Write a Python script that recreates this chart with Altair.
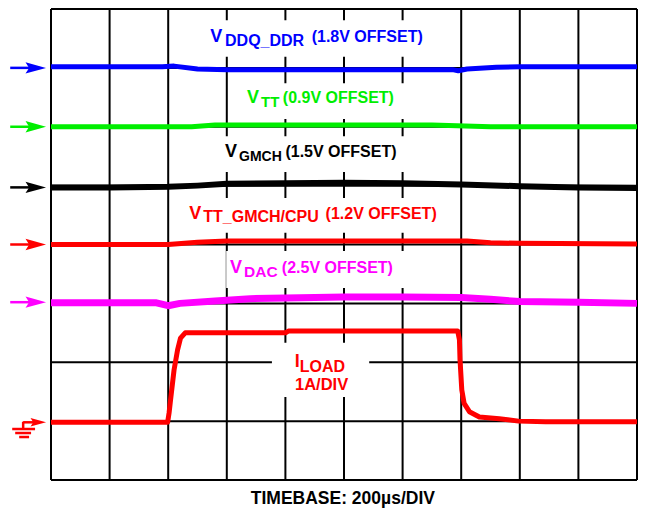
import altair as alt
import pandas as pd

# ---------------- data (units: scope divisions) ----------------
# x: 0..10 divisions (200us/div), y: 0..8 divisions
blue_t = [0, 1.0, 1.9, 2.1, 2.5, 3.0, 4.0, 5.0, 6.0, 6.85, 6.95, 7.1, 7.6, 8.0, 9.0, 10]
blue_v = [7.02, 7.02, 7.02, 7.03, 6.98, 6.97, 6.97, 6.97, 6.97, 6.97, 6.95, 6.98, 7.01, 7.02, 7.02, 7.02]

green_t = [0, 1.0, 2.4, 2.8, 4.0, 5.0, 6.5, 7.5, 9.0, 10]
green_v = [6.0, 6.0, 6.0, 6.03, 6.03, 6.03, 6.03, 6.0, 6.0, 6.0]

black_t = [0, 1, 2.0, 2.5, 3.0, 4, 5, 6, 7, 8, 9, 10]
black_v = [4.97, 4.97, 4.98, 5.0, 5.03, 5.04, 5.05, 5.04, 5.02, 4.99, 4.97, 4.96]

red_t = [0, 1.0, 2.0, 2.5, 3.0, 5.0, 7.1, 7.5, 8.0, 10]
red_v = [4.0, 4.0, 4.0, 4.04, 4.06, 4.06, 4.06, 4.03, 4.02, 4.01]

mag_t = [0, 1, 1.8, 2.0, 2.2, 2.8, 3.4, 4, 5, 6, 7, 7.5, 8, 9, 10]
mag_v = [3.01, 3.01, 3.01, 2.96, 3.0, 3.04, 3.08, 3.09, 3.11, 3.11, 3.1, 3.07, 3.03, 3.02, 3.0]

iload_t = [0, 1.0, 1.99, 2.015, 2.04, 2.10, 2.16, 2.21, 2.29, 2.5, 4.0, 4.05, 6.0, 6.94,
           6.97, 6.98, 7.01, 7.05, 7.14, 7.31, 7.65, 7.98, 8.44, 10]
iload_v = [0.98, 0.98, 0.98, 1.14, 1.36, 1.87, 2.21, 2.41, 2.50, 2.50, 2.50, 2.53, 2.53, 2.53,
           2.38, 2.04, 1.53, 1.30, 1.16, 1.07, 1.04, 1.00, 0.99, 0.99]

# grid divisions
grid_x = list(range(0, 11))
grid_y = list(range(0, 9))

# channel marker levels (left arrows)
arrow_levels = [7.0, 6.0, 4.97, 4.0, 3.02]
arrow_colors = ["#0000ff", "#00ee00", "#000000", "#ff0000", "#ff00ff"]

# label parts: text, x, y, font size, colour
lab_txt = ["V", "DDQ_DDR", "(1.8V OFFSET)",
           "V", "TT", "(0.9V OFFSET)",
           "V", "GMCH", "(1.5V OFFSET)",
           "V", "TT_GMCH/CPU", "(1.2V OFFSET)",
           "V", "DAC", "(2.5V OFFSET)",
           "I", "LOAD"]
lab_x = [2.716, 2.97, 4.448,
         3.345, 3.583, 3.956,
         2.971, 3.209, 4.00,
         2.360, 2.598, 4.686,
         3.056, 3.294, 3.939,
         4.160, 4.244]
lab_y = [7.44, 7.372, 7.44,
         6.403, 6.334, 6.403,
         5.486, 5.418, 5.486,
         4.433, 4.382, 4.433,
         3.516, 3.448, 3.516,
         1.919, 1.834]
lab_size = [18, 16, 16,
            18, 15, 16,
            18, 14, 16,
            18, 16, 16,
            18, 15.5, 16,
            18, 16]
lab_col = (["#0000ff"] * 3 + ["#00ee00"] * 3 + ["#000000"] * 3 +
           ["#ff0000"] * 3 + ["#ff00ff"] * 3 + ["#ff0000"] * 2)

# white boxes behind the labels (x0, x1, y0, y1)
box_x0 = [2.65, 3.28, 2.90, 2.29, 2.99, 3.77]
box_x1 = [6.67, 6.21, 6.35, 6.94, 6.18, 5.43]
box_y0 = [7.81, 6.74, 5.84, 4.79, 3.89, 2.33]
box_y1 = [7.19, 6.13, 5.23, 4.20, 3.26, 1.41]

# ---------------- helpers ----------------
XS = alt.Scale(domain=[0, 10], nice=False, zero=False)
YS = alt.Scale(domain=[0, 8], nice=False, zero=False)


def X(f):
    return alt.X(f, type="quantitative", scale=XS, axis=None)


def Y(f):
    return alt.Y(f, type="quantitative", scale=YS, axis=None)


FONT = "Liberation Sans"

# ---------------- grid ----------------
vgrid = pd.DataFrame({"x": grid_x, "y0": 0, "y1": 8})
hgrid = pd.DataFrame({"y": grid_y, "x0": 0, "x1": 10})
vlines = alt.Chart(vgrid).mark_rule(color="black", strokeWidth=2).encode(
    x=X("x"), y=Y("y0"), y2="y1")
hlines = alt.Chart(hgrid).mark_rule(color="black", strokeWidth=2).encode(
    y=Y("y"), x=X("x0"), x2="x1")

boxes = alt.Chart(pd.DataFrame({"x0": box_x0, "x1": box_x1, "y0": box_y0, "y1": box_y1})
                  ).mark_rect(color="white").encode(x=X("x0"), x2="x1", y=Y("y0"), y2="y1")


# ---------------- traces ----------------
def trace(t, v, color, w):
    return alt.Chart(pd.DataFrame({"t": t, "v": v})).mark_line(
        color=color, strokeWidth=w, strokeJoin="round", strokeCap="butt").encode(
        x=X("t"), y=Y("v"), order="t:Q")


traces = [
    trace(blue_t, blue_v, "#0000ff", 5),
    trace(green_t, green_v, "#00ee00", 5),
    trace(black_t, black_v, "#000000", 6),
    trace(red_t, red_v, "#ff0000", 5),
    trace(mag_t, mag_v, "#ff00ff", 7),
    trace(iload_t, iload_v, "#ff0000", 5),
]

# ---------------- left arrows ----------------
arr = pd.DataFrame({"y": arrow_levels, "c": arrow_colors, "x0": -0.696, "x1": -0.2, "tip": -0.085})
shafts = alt.Chart(arr).mark_rule(strokeWidth=2.5).encode(
    y=Y("y"), x=X("x0"), x2="x1", color=alt.Color("c:N", scale=None))
ARROW = "M0,0 L-2,-0.55 L-1.65,0 L-2,0.55 Z"
heads = alt.Chart(arr).mark_point(shape=ARROW, filled=True, size=420, opacity=1, strokeWidth=0).encode(
    x=X("tip"), y=Y("y"), color=alt.Color("c:N", scale=None))

# ground symbol for ILOAD
gnd = pd.DataFrame({"y": [0.98], "x0": [-0.475], "x1": [-0.2], "tip": [-0.085]})
gshaft = alt.Chart(gnd).mark_rule(strokeWidth=2.5, color="#ff0000").encode(
    y=Y("y"), x=X("x0"), x2="x1")
gstem = alt.Chart(pd.DataFrame({"x": [-0.475], "y0": [0.99], "y1": [0.866]})).mark_rule(
    strokeWidth=2.5, color="#ff0000").encode(x=X("x"), y=Y("y0"), y2="y1")
ghead = alt.Chart(gnd).mark_point(shape=ARROW, filled=True, size=240, opacity=1, strokeWidth=0,
                                  color="#ff0000").encode(x=X("tip"), y=Y("y"))
gbars = alt.Chart(pd.DataFrame({"y": [0.866, 0.798, 0.730],
                                "x0": [-0.662, -0.611, -0.543],
                                "x1": [-0.272, -0.340, -0.374]})).mark_rule(
    strokeWidth=2.5, color="#ff0000").encode(y=Y("y"), x=X("x0"), x2="x1")

# ---------------- text ----------------
labels = alt.Chart(pd.DataFrame({"txt": lab_txt, "x": lab_x, "y": lab_y, "s": lab_size, "c": lab_col})
                   ).mark_text(align="left", baseline="alphabetic", font=FONT, fontWeight="bold").encode(
    x=X("x"), y=Y("y"), text="txt:N", size=alt.Size("s:Q", scale=None),
    color=alt.Color("c:N", scale=None))

div_label = alt.Chart(pd.DataFrame({"txt": ["1A/DIV"], "x": [4.618], "y": [1.529]})).mark_text(
    align="center", baseline="alphabetic", font=FONT, fontWeight="bold", fontSize=16.5,
    color="#ff0000").encode(x=X("x"), y=Y("y"), text="txt:N")

timebase = alt.Chart(pd.DataFrame({"txt": ["TIMEBASE: 200µs/DIV"], "x": [4.98], "y": [-0.41]})).mark_text(
    align="center", baseline="alphabetic", font=FONT, fontWeight="bold", fontSize=17.5,
    color="#000000").encode(x=X("x"), y=Y("y"), text="txt:N")

chart = alt.layer(
    vlines, hlines, boxes, *traces, shafts, heads, gshaft, gstem, ghead, gbars,
    labels, div_label, timebase
).properties(
    width=586, height=471,
    autosize=alt.AutoSizeParams(type="none"),
    padding={"left": 43, "top": 1, "right": 1, "bottom": 29},
    background="white",
).configure_view(stroke=None)

chart.save("out.html", embed_options={"renderer": "svg", "actions": False})
